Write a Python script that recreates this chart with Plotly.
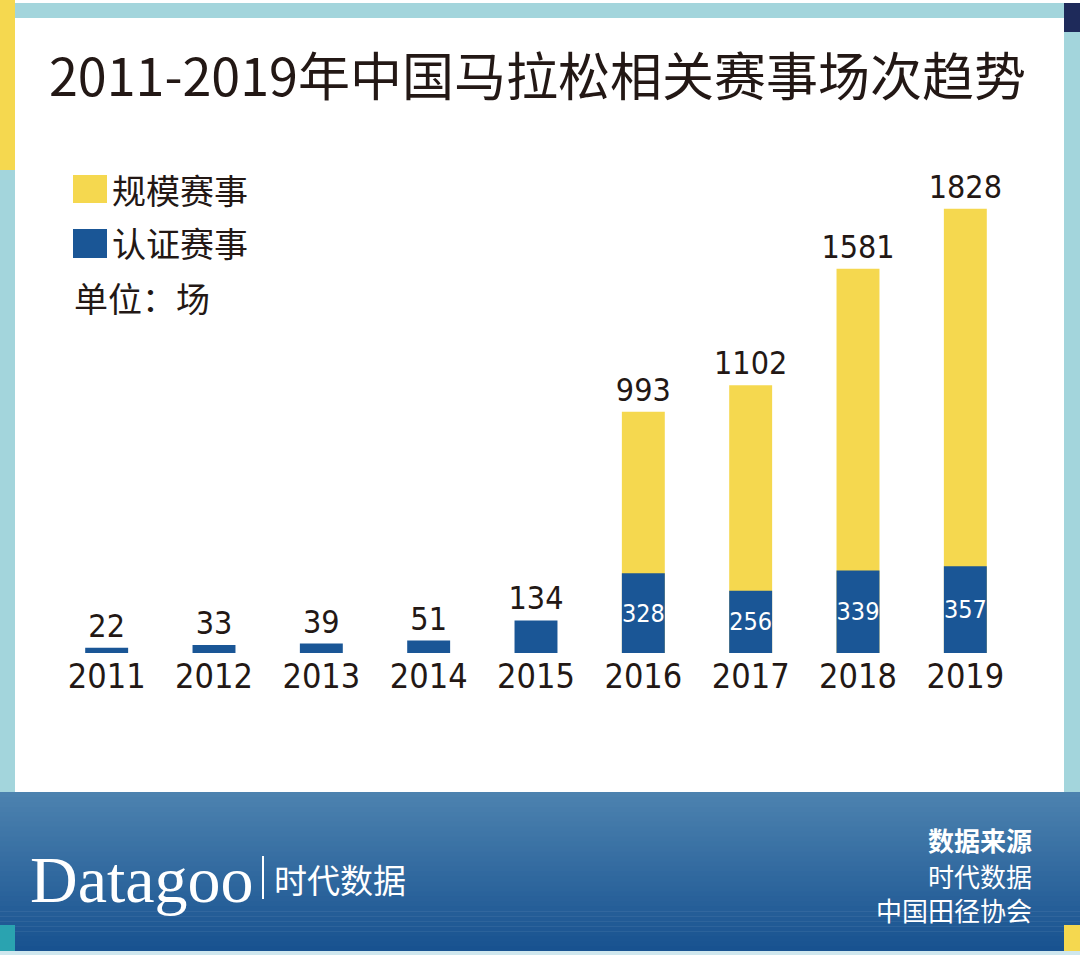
import plotly.graph_objects as go

# ---------------- data ----------------
years = ["2011", "2012", "2013", "2014", "2015", "2016", "2017", "2018", "2019"]
scale_events = [None, None, None, None, None, 993, 1102, 1581, 1828]   # 规模赛事
certified_events = [22, 33, 39, 51, 134, 328, 256, 339, 357]           # 认证赛事

title_text = "2011-2019年中国马拉松相关赛事场次趋势"
legend_scale = "规模赛事"
legend_cert = "认证赛事"
unit_text = "单位：场"
source_title = "数据来源"
source_lines = ["时代数据", "中国田径协会"]

# ---------------- style ----------------
W, H = 1080, 955
ML, MR, MT, MB = 53, 61, 167, 302
PW, PH = W - ML - MR, H - MT - MB
YELLOW = "#f5d84f"
BLUE = "#1a5696"
TEXT = "#231815"
TEAL = "#a3d5dc"
NUMFONT = "Liberation Sans Narrow, DejaVu Sans Condensed, Roboto Condensed, Noto Sans, sans-serif"
CJK = "Noto Sans CJK SC, sans-serif"


def px(x):
    return (x - ML) / PW


def py(y):
    return (H - MB - y) / PH


fig = go.Figure()

fig.add_trace(go.Bar(
    x=years, y=scale_events, name=legend_scale,
    marker=dict(color=YELLOW, line=dict(width=0)),
    width=0.4,
    text=[None if v is None else str(v) for v in scale_events],
    textposition="outside", textangle=0, constraintext="none",
    outsidetextfont=dict(family=NUMFONT, size=32, color=TEXT),
    cliponaxis=False, showlegend=False, hoverinfo="skip",
))

fig.add_trace(go.Bar(
    x=years, y=certified_events, name=legend_cert,
    marker=dict(color=BLUE, line=dict(width=0)),
    width=0.4,
    text=[str(v) for v in certified_events],
    textposition=["outside"] * 5 + ["inside"] * 4,
    textangle=0, constraintext="none",
    insidetextanchor="middle",
    insidetextfont=dict(family=NUMFONT, size=25, color="white"),
    outsidetextfont=dict(family=NUMFONT, size=32, color=TEXT),
    cliponaxis=False, showlegend=False, hoverinfo="skip",
))

shapes = []


def rect(x0, y0, x1, y1, color):
    shapes.append(dict(type="rect", xref="paper", yref="paper",
                       x0=px(x0), x1=px(x1), y0=py(y1), y1=py(y0),
                       fillcolor=color, line=dict(width=0), layer="below"))


# frame
rect(0, 3, W, 18, TEAL)               # top band
rect(0, 0, 15, 170, YELLOW)           # left strip (yellow)
rect(0, 170, 15, 792, TEAL)           # left strip (teal)
rect(1064, 18, W, 792, TEAL)          # right strip
rect(1064, 3, W, 32, "#1e2a5a")       # navy corner

# footer gradient
top_c = (76, 130, 175)
bot_c = (24, 82, 144)
n = 32
y0, y1 = 792, 951
for i in range(n):
    t = i / (n - 1)
    c = tuple(int(round(top_c[k] + (bot_c[k] - top_c[k]) * t)) for k in range(3))
    a = y0 + (y1 - y0) * i / n
    b = y0 + (y1 - y0) * (i + 1) / n + 0.6
    rect(0, a, W, b, "rgb(%d,%d,%d)" % c)
rect(0, 951, W, H, "#cfe7ee")
rect(0, 925, 15, 951, "#2aa3b0")
rect(1064, 925, W, 951, YELLOW)

# legend squares
rect(73, 175, 107, 203, YELLOW)
rect(73, 229, 107, 258, BLUE)

# separator line in the footer logo
shapes.append(dict(type="line", xref="paper", yref="paper",
                   x0=px(263), x1=px(263), y0=py(899), y1=py(856),
                   line=dict(color="white", width=2), layer="above"))

annotations = []


def note(x, y, text, size, color=TEXT, family=CJK, xanchor="left", bold=False):
    if bold:
        text = "<b>" + text + "</b>"
    annotations.append(dict(xref="paper", yref="paper", x=px(x), y=py(y),
                            text=text, showarrow=False, xanchor=xanchor, yanchor="middle",
                            font=dict(family=family, size=size, color=color)))


note(537, 73, title_text, 52, xanchor="center")
note(110, 189, legend_scale, 34)
note(110, 243, legend_cert, 34)
note(72, 297, unit_text, 34)

note(28, 879, "Datagoo", 66, color="white", family="Liberation Serif, DejaVu Serif, serif")
note(272, 879, "时代数据", 33, color="white")
note(1034, 839, source_title, 26, color="white", xanchor="right", bold=True)
note(1034, 875, source_lines[0], 26, color="white", xanchor="right")
note(1034, 909, source_lines[1], 26, color="white", xanchor="right")

fig.update_layout(
    width=W, height=H,
    margin=dict(l=ML, r=MR, t=MT, b=MB, pad=0),
    paper_bgcolor="white", plot_bgcolor="rgba(0,0,0,0)",
    barmode="overlay",
    shapes=shapes, annotations=annotations,
    xaxis=dict(type="category", range=[-0.5, 8.5], showgrid=False, showline=False,
               zeroline=False, ticks="", fixedrange=True,
               tickfont=dict(family=NUMFONT, size=34, color=TEXT)),
    yaxis=dict(range=[0, 2000], visible=False, showgrid=False, zeroline=False, fixedrange=True),
    showlegend=False,
)

fig.write_html("out.html", config={"displayModeBar": False},
               post_script="document.body.style.margin='0';")
